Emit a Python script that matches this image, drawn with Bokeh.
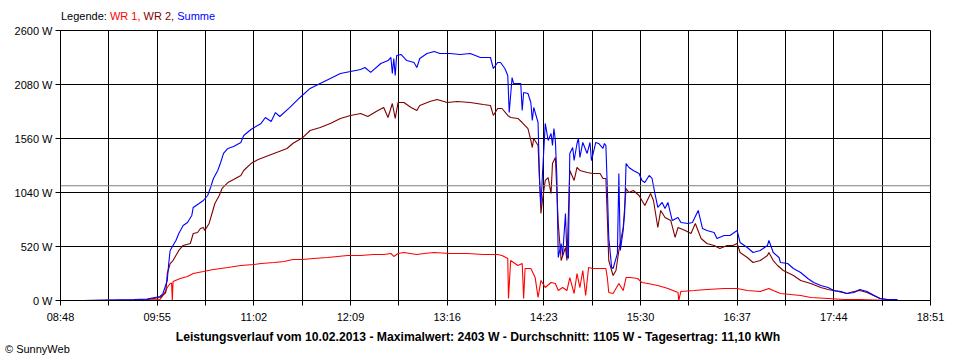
from bokeh.plotting import figure
from bokeh.models import Range1d, FixedTicker, Span, Div
from bokeh.layouts import column
from bokeh.embed import file_html
from bokeh.resources import INLINE

# time in minutes after midnight, power in W
summe_t = [544, 579, 588, 597, 599, 602, 603, 604, 606, 608, 610, 613, 616, 619, 620, 624, 627, 630,
           632, 634, 637, 639, 641, 644, 648, 653, 655, 660, 667, 670, 674, 677, 680, 687, 694, 701,
           708, 715, 722, 729, 736, 739, 743, 750, 755, 757, 758, 759, 760, 761, 764, 768, 773, 775,
           777, 782, 787, 791, 798, 805, 812, 819, 826, 828, 831, 833, 836, 838, 839, 841, 842, 847,
           848, 849, 852, 854, 855, 856, 859, 860, 861, 862, 864, 866, 868, 869, 870, 871, 872, 873,
           875, 876, 878, 879, 880, 881, 883, 884, 886, 887, 888, 890, 893, 895, 896, 899, 901, 904,
           905, 906, 907, 908, 910, 911, 914, 915, 916, 918, 919, 920, 922, 925, 929, 931, 933, 936,
           938, 940, 942, 945, 947, 949, 952, 956, 958, 963, 966, 970, 973, 976, 981, 983, 988, 992,
           997, 999, 1004, 1008, 1013, 1018, 1019, 1022, 1026, 1027, 1032, 1036, 1041, 1046, 1050,
           1055, 1060, 1064, 1069, 1073, 1078, 1082, 1087, 1092, 1096, 1101, 1108]
summe_w = [0, 10, 15, 39, 67, 193, 356, 482, 530, 578, 645, 722, 751, 819, 896, 934, 963, 1011,
           1088, 1175, 1252, 1329, 1416, 1464, 1483, 1522, 1589, 1647, 1705, 1762, 1724, 1810, 1772,
           1859, 1955, 2042, 2090, 2138, 2186, 2205, 2225, 2244, 2196, 2282, 2311, 2340, 2186, 2330,
           2167, 2359, 2369, 2311, 2292, 2244, 2330, 2379, 2398, 2379, 2379, 2369, 2379, 2340, 2340,
           2234, 2292, 2292, 2234, 2167, 1810, 2147, 2090, 2090, 1830, 2003, 1993, 1907, 1733, 1859,
           1714, 1175, 915, 1204, 1705, 1541, 1608, 1493, 1656, 1541, 1204, 414, 549, 433, 838, 433,
           404, 1416, 1473, 1348, 1512, 1560, 1377, 1522, 1416, 1522, 1348, 1522, 1512, 1464, 1512,
           1493, 1088, 607, 318, 308, 453, 1223, 482, 674, 838, 1319, 1281, 1252, 1223, 1156, 1136,
           1204, 1175, 1030, 896, 944, 886, 944, 770, 799, 751, 742, 751, 867, 693, 674, 655, 597,
           626, 626, 674, 559, 510, 462, 482, 530, 578, 462, 414, 366, 356, 308, 270, 212, 173, 144,
           125, 96, 87, 67, 77, 106, 87, 48, 19, 10, 10]

wr2_t = [544, 579, 588, 597, 601, 602, 604, 606, 610, 613, 618, 620, 623, 625, 627, 628, 631, 633,
         635, 638, 640, 644, 648, 653, 655, 660, 665, 685, 689, 696, 701, 708, 715, 722, 729, 736,
         741, 748, 752, 755, 758, 760, 762, 766, 771, 775, 777, 784, 789, 796, 803, 812, 821, 826,
         828, 831, 834, 838, 840, 845, 848, 850, 852, 854, 855, 856, 859, 861, 862, 864, 866, 868,
         869, 871, 873, 875, 878, 879, 881, 884, 886, 888, 893, 897, 902, 904, 906, 907, 908, 911,
         913, 915, 918, 920, 922, 925, 929, 931, 933, 937, 939, 942, 944, 947, 951, 954, 956, 961,
         965, 968, 972, 976, 981, 985, 990, 994, 997, 999, 1004, 1008, 1013, 1018, 1019, 1022, 1025,
         1029, 1036, 1041, 1048, 1055, 1060, 1067, 1073, 1078, 1082, 1087, 1093, 1096, 1101, 1108]
wr2_w = [0, 5, 10, 29, 77, 260, 356, 385, 482, 530, 549, 645, 655, 693, 703, 674, 742, 838,
         934, 1011, 1079, 1136, 1165, 1204, 1252, 1319, 1358, 1464, 1512, 1570, 1637, 1666, 1705,
         1753, 1782, 1801, 1772, 1830, 1859, 1762, 1897, 1753, 1907, 1907, 1859, 1830, 1878, 1916,
         1936, 1907, 1916, 1907, 1887, 1878, 1782, 1849, 1849, 1782, 1762, 1753, 1714, 1685, 1656,
         1541, 1473, 1560, 1493, 838, 963, 1156, 1184, 1030, 1319, 1377, 742, 385, 510, 385, 1252,
         1156, 1281, 1252, 1233, 1223, 1223, 1175, 1175, 799, 385, 241, 289, 482, 703, 1079, 1040,
         1059, 1011, 963, 915, 1030, 963, 703, 867, 799, 770, 607, 703, 674, 645, 742, 597, 549,
         530, 501, 530, 530, 549, 462, 414, 366, 385, 433, 462, 385, 337, 289, 241, 193, 164, 125,
         106, 87, 67, 87, 96, 77, 39, 19, 10, 10]

wr1_t = [579, 597, 600, 602, 604, 605, 605.5, 606, 611, 616, 620, 627, 634, 644, 653, 662, 667,
         676, 683, 689, 696, 703, 713, 720, 727, 736, 745, 752, 757, 759, 762, 766, 775, 780, 787,
         798, 810, 821, 831, 834, 838, 838.5, 840, 842, 845, 848, 849, 850, 854, 857, 859, 861, 864,
         868, 871, 873, 876, 879, 881, 884, 886, 888, 890, 892, 894, 897, 900, 906, 907, 908, 911,
         913, 915, 918, 920, 923, 928, 931, 935, 942, 949, 956, 956.5, 958, 967, 976, 988, 997,
         1004, 1013, 1019, 1022, 1027, 1041, 1048, 1060, 1071, 1082, 1105]
wr1_w = [0, 10, 67, 125, 164, 168, 0, 183, 212, 231, 260, 279, 299, 318, 337, 347, 356,
         366, 376, 395, 395, 404, 414, 424, 433, 433, 443, 443, 453, 424, 453, 462, 443, 453, 462,
         453, 453, 443, 443, 433, 404, 19, 385, 366, 337, 356, 19, 308, 308, 221, 29, 193, 125,
         173, 164, 96, 125, 96, 221, 67, 260, 125, 289, 48, 318, 308, 308, 308, 221, 77, 67,
         116, 164, 96, 221, 221, 212, 173, 164, 144, 116, 77, 0, 87, 96, 106, 116, 116,
         96, 87, 116, 96, 67, 48, 29, 19, 10, 10, 0]

AVERAGE_W = 1105
x_ticks = [528, 561.5, 595, 628.5, 662, 695.5, 729, 762.5, 796, 829.5, 863, 896.5, 930, 963.5,
           997, 1030.5, 1064, 1097.5, 1131]
x_tick_labels = ["08:48", "", "09:55", "", "11:02", "", "12:09", "", "13:16", "", "14:23", "",
                 "15:30", "", "16:37", "", "17:44", "", "18:51"]
y_ticks = [0, 520, 1040, 1560, 2080, 2600]
y_tick_labels = ["0 W", "520 W", "1040 W", "1560 W", "2080 W", "2600 W"]
series_names = ["WR 1", "WR 2", "Summe"]
series_colors = ["#ff0000", "#800000", "#0000ff"]
title_text = ("Leistungsverlauf vom 10.02.2013 - Maximalwert: 2403 W - Durchschnitt: 1105 W - "
              "Tagesertrag: 11,10 kWh")
copyright_text = "© SunnyWeb"

FONT = "Liberation Sans"

p = figure(width=960, height=303, output_backend="svg", toolbar_location=None,
           x_range=Range1d(528, 1131), y_range=Range1d(0, 2600),
           min_border_left=60, min_border_right=30, min_border_top=8, min_border_bottom=25,
           background_fill_color="white", border_fill_color="white", margin=0)
p.outline_line_color = "black"
p.outline_line_width = 1

for ax, ticks, labels in ((p.xaxis[0], x_ticks, x_tick_labels), (p.yaxis[0], y_ticks, y_tick_labels)):
    ax.ticker = FixedTicker(ticks=ticks)
    ax.major_label_overrides = {t: l for t, l in zip(ticks, labels)}
    ax.minor_tick_line_color = None
    ax.major_tick_in = 0
    ax.major_tick_out = 5
    ax.major_tick_line_color = "black"
    ax.axis_line_color = "black"
    ax.major_label_text_font = FONT
    ax.major_label_text_font_size = "11px"
    ax.major_label_text_color = "black"
p.xaxis.major_label_standoff = 5
p.yaxis.major_label_standoff = 3

p.xgrid.ticker = FixedTicker(ticks=x_ticks)
p.ygrid.ticker = FixedTicker(ticks=y_ticks)
for g in (p.xgrid[0], p.ygrid[0]):
    g.grid_line_color = "black"
    g.grid_line_width = 1
    g.grid_line_alpha = 1

p.add_layout(Span(location=AVERAGE_W, dimension="width", line_color="#808080", line_width=1))

for t, w, col in ((wr1_t, wr1_w, series_colors[0]), (wr2_t, wr2_w, series_colors[1]),
                  (summe_t, summe_w, series_colors[2])):
    p.line(t, w, line_color=col, line_width=1.1)

legend_html = ('<div style="font-family:\'Liberation Sans\';font-size:11px;line-height:12px;'
               'padding:10px 0 0 61px;white-space:nowrap;">'
               '<span style="color:black">Legende:</span> '
               + " ".join('<span style="color:%s">%s%s</span>' % (c, n, "," if i < len(series_names) - 1 else "")
                          for i, (n, c) in enumerate(zip(series_names, series_colors)))
               + '</div>')
legend_div = Div(text=legend_html, width=960, height=22, margin=0)

bottom_html = ('<div style="font-family:\'Liberation Sans\';white-space:nowrap;padding-top:5px;">'
               '<div style="font-size:12.2px;font-weight:bold;line-height:14px;width:956px;'
               'text-align:center;">' + title_text + '</div>'
               '<div style="font-size:11px;line-height:10px;padding-left:5px;">' + copyright_text
               + '</div></div>')
bottom_div = Div(text=bottom_html, width=960, height=35, margin=0)

layout = column(legend_div, p, bottom_div, spacing=0)

open("out.html", "w").write(file_html(layout, INLINE))
